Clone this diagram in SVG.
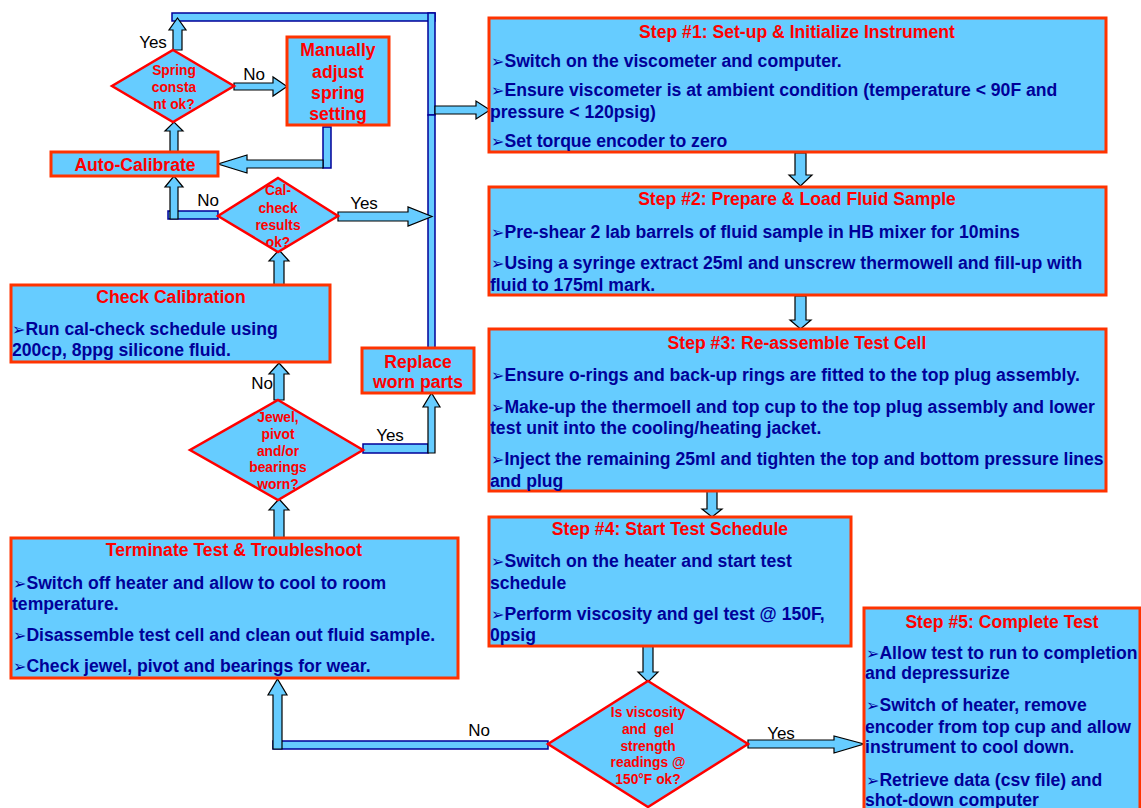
<svg xmlns="http://www.w3.org/2000/svg" width="1141" height="808" viewBox="0 0 1141 808">
<style>
.box{fill:#66CCFF;stroke:#FF3300;stroke-width:3}
.dia{fill:#66CCFF;stroke:#FF0000;stroke-width:2.5}
.bar{fill:#66CCFF;stroke:#000099;stroke-width:1.5}
.arr{fill:#66CCFF;stroke:#000000;stroke-width:1.2;stroke-linejoin:miter}
text{font-family:"Liberation Sans",Arial,Helvetica,sans-serif}
.t{font-size:17.6px;font-weight:bold;fill:#FF0000;text-anchor:middle}
.d{font-size:13.8px;font-weight:bold;fill:#FF0000;text-anchor:middle}
.b{font-size:17.6px;font-weight:bold;fill:#000099}
.bl{font-family:"DejaVu Sans",sans-serif;font-size:16px;font-weight:normal}
.lbl{font-size:17px;fill:#000000;text-anchor:middle}
</style>
<rect width="1141" height="808" fill="#FFFFFF"/>
<g id="connectors">
<rect class="bar" x="172" y="13" width="263" height="8"/>
<rect class="bar" x="428" y="13" width="7" height="102"/>
<rect class="bar" x="428" y="115" width="7" height="233"/>
<rect class="bar" x="323" y="127" width="8" height="41"/>
<rect class="bar" x="168" y="211" width="50" height="8"/>
<rect class="bar" x="363" y="444" width="65" height="9"/>
<rect class="bar" x="273" y="741" width="275" height="8"/>
<path class="arr" d="M173,50 L173,30 L169,30 L177.5,18 L186,30 L182,30 L182,50 Z"/>
<path class="arr" d="M170,153 L170,131 L165,131 L174,122 L183,131 L178,131 L178,153 Z"/>
<path class="arr" d="M170,219 L170,187 L165,187 L174,176 L183,187 L178,187 L178,219 Z"/>
<path class="arr" d="M274,285 L274,261 L269,261 L279,250 L289,261 L284,261 L284,285 Z"/>
<path class="arr" d="M274,400 L274,374 L269,374 L279,363 L289,374 L284,374 L284,400 Z"/>
<path class="arr" d="M274,538 L274,510 L269,510 L279,499 L289,510 L284,510 L284,538 Z"/>
<path class="arr" d="M428,453 L428,407 L423,407 L431.5,393 L440,407 L435,407 L435,453 Z"/>
<path class="arr" d="M273,749 L273,695 L268,695 L277.5,679 L287,695 L282,695 L282,749 Z"/>
<path class="arr" d="M234,83 L273,83 L273,77 L287,86.5 L273,96 L273,90 L234,90 Z"/>
<path class="arr" d="M338,212 L408,212 L408,207 L432,216.5 L408,226 L408,221 L338,221 Z"/>
<path class="arr" d="M435,106 L476,106 L476,101 L490,110 L476,119 L476,114 L435,114 Z"/>
<path class="arr" d="M748,740 L834,740 L834,736 L864,744 L834,753 L834,748 L748,748 Z"/>
<path class="arr" d="M323,160 L247,160 L247,155 L218,164 L247,173 L247,168 L323,168 Z"/>
<path class="arr" d="M795,153 L795,175 L789,175 L800.5,186 L812,175 L806,175 L806,153 Z"/>
<path class="arr" d="M795,296 L795,320 L790,320 L800.5,329 L811,320 L806,320 L806,296 Z"/>
<path class="arr" d="M707,491 L707,509 L702,509 L712,517 L722,509 L717,509 L717,491 Z"/>
<path class="arr" d="M643,646 L643,672 L638,672 L648,682 L658,672 L653,672 L653,646 Z"/>
<text class="lbl" x="153" y="48">Yes</text>
<text class="lbl" x="254" y="80">No</text>
<text class="lbl" x="208" y="206">No</text>
<text class="lbl" x="364" y="209">Yes</text>
<text class="lbl" x="262" y="389">No</text>
<text class="lbl" x="390" y="441">Yes</text>
<text class="lbl" x="479" y="736">No</text>
<text class="lbl" x="781" y="739">Yes</text>
</g>
<g id="spring">
<polygon class="dia" points="173,50 234,86 173,122 112,86"/>
<text class="d" x="174" y="75">Spring</text>
<text class="d" x="174" y="92">consta</text>
<text class="d" x="174" y="109">nt ok?</text>
</g>
<g id="manual">
<rect class="box" x="287" y="37" width="102" height="88"/>
<text class="t" x="338" y="56">Manually</text>
<text class="t" x="338" y="78">adjust</text>
<text class="t" x="338" y="99">spring</text>
<text class="t" x="338" y="120">setting</text>
</g>
<g id="autocal">
<rect class="box" x="51" y="152" width="167" height="24"/>
<text class="t" x="135" y="171">Auto-Calibrate</text>
</g>
<g id="calcheck">
<polygon class="dia" points="278,178 338,216 278,252 218,216"/>
<text class="d" x="278" y="195">Cal-</text>
<text class="d" x="278" y="213">check</text>
<text class="d" x="278" y="230">results</text>
<text class="d" x="278" y="247">ok?</text>
</g>
<g id="checkcal">
<rect class="box" x="11" y="285" width="319" height="77"/>
<text class="t" x="171" y="303">Check Calibration</text>
<text class="b" x="12" y="335"><tspan class="bl">➢</tspan>Run cal-check schedule using</text>
<text class="b" x="12" y="356">200cp, 8ppg silicone fluid.</text>
</g>
<g id="replace">
<rect class="box" x="362" y="348" width="112" height="45"/>
<text class="t" x="418" y="368">Replace</text>
<text class="t" x="418" y="388">worn parts</text>
</g>
<g id="jewel">
<polygon class="dia" points="278,400 363,450 278,500 190,450"/>
<text class="d" x="278" y="422">Jewel,</text>
<text class="d" x="278" y="439">pivot</text>
<text class="d" x="278" y="456">and/or</text>
<text class="d" x="278" y="472">bearings</text>
<text class="d" x="278" y="489">worn?</text>
</g>
<g id="terminate">
<rect class="box" x="11" y="538" width="447" height="140"/>
<text class="t" x="234" y="556">Terminate Test &amp; Troubleshoot</text>
<text class="b" x="13" y="589"><tspan class="bl">➢</tspan>Switch off heater and allow to cool to room</text>
<text class="b" x="12" y="610">temperature.</text>
<text class="b" x="13" y="641"><tspan class="bl">➢</tspan>Disassemble test cell and clean out fluid sample.</text>
<text class="b" x="13" y="672"><tspan class="bl">➢</tspan>Check jewel, pivot and bearings for wear.</text>
</g>
<g id="step1">
<rect class="box" x="489" y="18" width="617" height="134"/>
<text class="t" x="797" y="38">Step #1: Set-up &amp; Initialize Instrument</text>
<text class="b" x="491" y="67"><tspan class="bl">➢</tspan>Switch on the viscometer and computer.</text>
<text class="b" x="491" y="96"><tspan class="bl">➢</tspan>Ensure viscometer is at ambient condition (temperature &lt; 90F and</text>
<text class="b" x="490" y="118">pressure &lt; 120psig)</text>
<text class="b" x="491" y="147"><tspan class="bl">➢</tspan>Set torque encoder to zero</text>
</g>
<g id="step2">
<rect class="box" x="489" y="187" width="617" height="108"/>
<text class="t" x="797" y="205">Step #2: Prepare &amp; Load Fluid Sample</text>
<text class="b" x="491" y="238"><tspan class="bl">➢</tspan>Pre-shear 2 lab barrels of fluid sample in HB mixer for 10mins</text>
<text class="b" x="491" y="269"><tspan class="bl">➢</tspan>Using a syringe extract 25ml and unscrew thermowell and fill-up with</text>
<text class="b" x="490" y="291">fluid to 175ml mark.</text>
</g>
<g id="step3">
<rect class="box" x="489" y="329" width="617" height="162"/>
<text class="t" x="797" y="349">Step #3: Re-assemble Test Cell</text>
<text class="b" x="491" y="381"><tspan class="bl">➢</tspan>Ensure o-rings and back-up rings are fitted to the top plug assembly.</text>
<text class="b" x="491" y="413"><tspan class="bl">➢</tspan>Make-up the thermoell and top cup to the top plug assembly and lower</text>
<text class="b" x="490" y="434">test unit into the cooling/heating jacket.</text>
<text class="b" x="491" y="465"><tspan class="bl">➢</tspan>Inject the remaining 25ml and tighten the top and bottom pressure lines</text>
<text class="b" x="490" y="487">and plug</text>
</g>
<g id="step4">
<rect class="box" x="489" y="517" width="362" height="129"/>
<text class="t" x="670" y="535">Step #4: Start Test Schedule</text>
<text class="b" x="491" y="567"><tspan class="bl">➢</tspan>Switch on the heater and start test</text>
<text class="b" x="490" y="589">schedule</text>
<text class="b" x="491" y="620"><tspan class="bl">➢</tspan>Perform viscosity and gel test @ 150F,</text>
<text class="b" x="490" y="641">0psig</text>
</g>
<g id="viscosity">
<polygon class="dia" points="648,681 748,744 648,807 548,744"/>
<text class="d" x="648" y="717">Is viscosity</text>
<text class="d" x="648" y="734" xml:space="preserve">and  gel</text>
<text class="d" x="648" y="751">strength</text>
<text class="d" x="648" y="767">readings @</text>
<text class="d" x="648" y="784">150°F ok?</text>
</g>
<g id="step5">
<rect class="box" x="864" y="608" width="276" height="215"/>
<text class="t" x="1002" y="628">Step #5: Complete Test</text>
<text class="b" x="866" y="659"><tspan class="bl">➢</tspan>Allow test to run to completion</text>
<text class="b" x="865" y="679">and depressurize</text>
<text class="b" x="866" y="711"><tspan class="bl">➢</tspan>Switch of heater, remove</text>
<text class="b" x="865" y="733">encoder from top cup and allow</text>
<text class="b" x="865" y="753">instrument to cool down.</text>
<text class="b" x="866" y="786"><tspan class="bl">➢</tspan>Retrieve data (csv file) and</text>
<text class="b" x="865" y="806">shot-down computer</text>
</g>
</svg>
